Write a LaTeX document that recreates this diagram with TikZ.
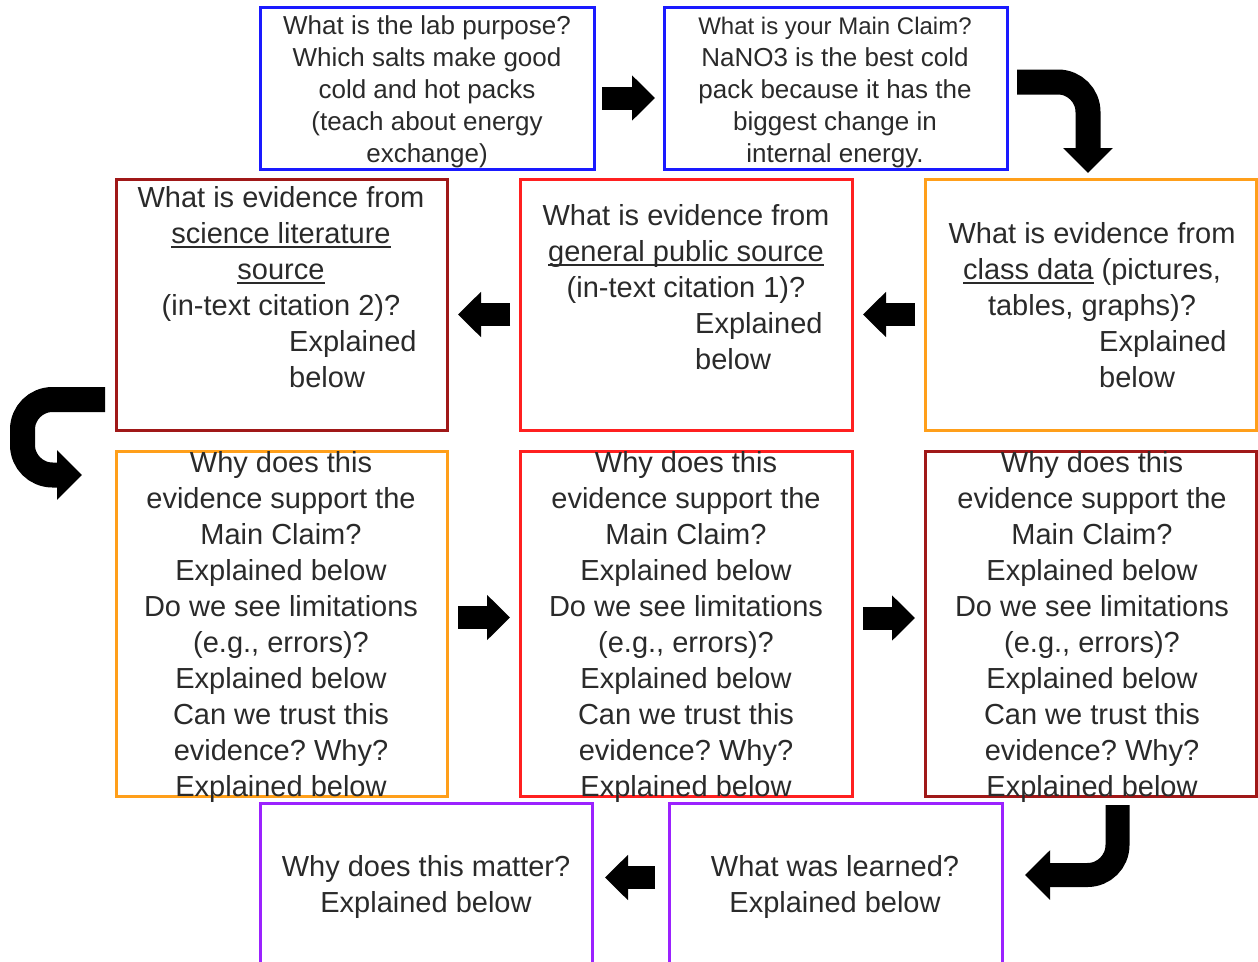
\documentclass[tikz,border=0pt]{standalone}
\usepackage{fontspec}
\setmainfont{Liberation Sans}
\usetikzlibrary{arrows.meta}
\definecolor{cblue}{HTML}{1A1AFF}
\definecolor{cred}{HTML}{FF2020}
\definecolor{cdred}{HTML}{A01818}
\definecolor{corange}{HTML}{FF9F1A}
\definecolor{cpurple}{HTML}{9B22FF}
\definecolor{txtc}{HTML}{2A2A2A}
\newsavebox\ulbox
\newcommand\uln[1]{\sbox\ulbox{#1}\rlap{\rule[-4pt]{\wd\ulbox}{2pt}}\usebox\ulbox}
\newcommand\sa{\rule{0pt}{30pt}}
\newcommand\sbb{\rule{0pt}{27pt}}
\frenchspacing
\begin{document}
\begin{tikzpicture}[x=1pt,y=-1pt,
  box/.style={draw, line width=3pt, inner sep=0pt, rectangle},
  txt/.style={anchor=north, inner sep=0pt, align=center, font=\fontsize{29}{36}\selectfont, text=txtc},
  txtl/.style={txt, anchor=north west, align=left},
  toptxt/.style={txt, font=\fontsize{26}{32}\selectfont},
  barrow/.style={draw=black, line width=23pt, -{Triangle[length=23pt,width=44pt]}},
  bentarrow/.style={draw=black, line width=25pt, rounded corners=30pt, -{Triangle[length=25pt,width=48pt]}}]
\useasboundingbox (0,0) rectangle (1258,961);
\clip (0,0) rectangle (1258,961);

% boxes
\node[box, draw=cblue, minimum width=334pt, minimum height=162pt] (top1) at (427,88) {};
\node[box, draw=cblue, minimum width=343pt, minimum height=162pt] (top2) at (835.5,88) {};
\node[box, draw=cdred, minimum width=331pt, minimum height=251pt] (bA) at (281.5,304.5) {};
\node[box, draw=cred, minimum width=332pt, minimum height=251pt] (bB) at (686,304.5) {};
\node[box, draw=corange, minimum width=331pt, minimum height=251pt] (bC) at (1090.5,304.5) {};
\node[box, draw=corange, minimum width=331pt, minimum height=345pt] (bD) at (281.5,623.5) {};
\node[box, draw=cred, minimum width=332pt, minimum height=345pt] (bE) at (686,623.5) {};
\node[box, draw=cdred, minimum width=331pt, minimum height=345pt] (bF) at (1090.5,623.5) {};
\node[box, draw=cpurple, minimum width=332pt, minimum height=197pt] (bG) at (426,901.5) {};
\node[box, draw=cpurple, minimum width=333pt, minimum height=197pt] (bH) at (835.5,901.5) {};

% texts
\node[toptxt] (t1) at (427,7.4) {\sbb What is the lab purpose?\\Which salts make good\\cold and hot packs\\(teach about energy\\exchange)};
\node[toptxt] (t2) at (835,7.4) {\sbb{\fontsize{24}{32}\selectfont What is your Main Claim?}\\NaNO3 is the best cold\\pack because it has the\\biggest change in\\internal energy.};

\node[txt] (tA) at (281,177.5) {\sa What is evidence from\\\uln{science literature}\\\uln{source}\\(in-text citation 2)?};
\node[txtl] (eA) at (289,321.5) {\sa Explained\\below};
\node[txt] (tB) at (686,195.5) {\sa What is evidence from\\\uln{general public source}\\(in-text citation 1)?};
\node[txtl] (eB) at (695,303.5) {\sa Explained\\below};
\node[txt] (tC) at (1092,213.5) {\sa What is evidence from\\\uln{class data} (pictures,\\tables, graphs)?};
\node[txtl] (eC) at (1099,321.5) {\sa Explained\\below};

\node[txt] (tD) at (281,442.5) {\sa Why does this\\evidence support the\\Main Claim?\\Explained below\\Do we see limitations\\(e.g., errors)?\\Explained below\\Can we trust this\\evidence? Why?\\Explained below};
\node[txt] (tE) at (686,442.5) {\sa Why does this\\evidence support the\\Main Claim?\\Explained below\\Do we see limitations\\(e.g., errors)?\\Explained below\\Can we trust this\\evidence? Why?\\Explained below};
\node[txt] (tF) at (1092,442.5) {\sa Why does this\\evidence support the\\Main Claim?\\Explained below\\Do we see limitations\\(e.g., errors)?\\Explained below\\Can we trust this\\evidence? Why?\\Explained below};

\node[txt] (tG) at (426,846.5) {\sa Why does this matter?\\Explained below};
\node[txt] (tH) at (835,846.5) {\sa What was learned?\\Explained below};

% arrow end points
\coordinate (a1s) at (602,98);   \coordinate (a1e) at (655,98);
\coordinate (a2s) at (915,314.5); \coordinate (a2e) at (863,314.5);
\coordinate (a3s) at (510,314.5); \coordinate (a3e) at (458,314.5);
\coordinate (a4s) at (458,617.5); \coordinate (a4e) at (510,617.5);
\coordinate (a5s) at (863,618);  \coordinate (a5e) at (915,618);
\coordinate (a6s) at (655,877.5); \coordinate (a6e) at (605,877.5);
\coordinate (b1s) at (1017,82);  \coordinate (b1e) at (1088,173);
\coordinate (b2s) at (105,399.5); \coordinate (b2e) at (82,475);
\coordinate (b3s) at (1117.5,805); \coordinate (b3e) at (1025,875);

\draw[barrow] (a1s) -- (a1e);
\draw[barrow] (a2s) -- (a2e);
\draw[barrow] (a3s) -- (a3e);
\draw[barrow] (a4s) -- (a4e);
\draw[barrow] (a5s) -- (a5e);
\draw[barrow] (a6s) -- (a6e);
\draw[bentarrow] (b1s) -- (b1e |- b1s) -- (b1e);
\draw[bentarrow] (b2s) -- (22.5,399.5) -- (22.5,475) -- (b2e);
\draw[bentarrow, line width=24pt] (b3s) -- (b3s |- b3e) -- (b3e);
\end{tikzpicture}
\end{document}
